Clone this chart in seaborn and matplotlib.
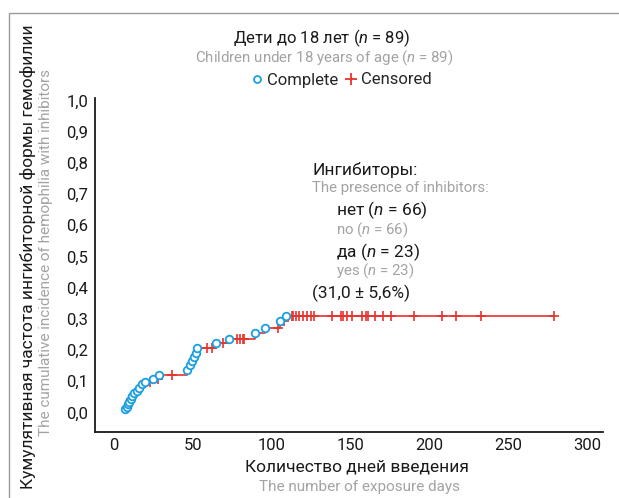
import numpy as np
import matplotlib
matplotlib.use("Agg")
import matplotlib.pyplot as plt
from matplotlib.lines import Line2D
from matplotlib.patches import Rectangle
from matplotlib.ticker import FuncFormatter
import seaborn as sns

# events (complete): exposure day and cumulative incidence after the event
event_days = [7.0, 8.0, 8.7, 9.5, 10.6, 11.6, 12.9, 14.4, 15.8, 17.5, 19.6, 24.5, 28.5,
              46.4, 48.1, 49.6, 50.7, 51.9, 52.4, 64.6, 72.6, 89.3, 95.6, 105.1, 108.9]
event_inc = [0.011, 0.018, 0.026, 0.034, 0.043, 0.052, 0.062, 0.070, 0.079, 0.090, 0.099, 0.107, 0.119,
             0.137, 0.152, 0.165, 0.177, 0.190, 0.208, 0.224, 0.237, 0.254, 0.270, 0.294, 0.310]

# censored observations: exposure day
censor_days = [10.2, 11.0, 22.8, 28.0, 36.5, 58.7, 61.9, 68.8, 77.7, 79.8, 81.5, 82.5,
               104.1, 107.5, 112.5, 113.4, 115.1, 117.2, 119.5, 122.0, 124.6, 126.9, 138.3,
               143.8, 145.2, 147.4, 150.5, 157.2, 159.4, 161.0, 165.3, 170.6, 175.4, 190.2,
               207.5, 216.4, 232.4, 278.7]

x_ticks = [0, 50, 100, 150, 200, 250, 300]
y_ticks = [0.0, 0.1, 0.2, 0.3, 0.4, 0.5, 0.6, 0.7, 0.8, 0.9, 1.0]

RED = "#e8322b"
BLUE = "#1a9fe0"
GRAY = "#a3a3a3"
BLACK = "#1a1a1a"

sns.set_theme(style="white")
plt.rcParams["font.family"] = ["Roboto", "DejaVu Sans"]
plt.rcParams["mathtext.fontset"] = "custom"
plt.rcParams["mathtext.it"] = "Roboto:italic"
plt.rcParams["mathtext.rm"] = "Roboto"

# level of the curve at each censor time
ev_d = np.array(event_days)
ev_v = np.array(event_inc)
idx = np.searchsorted(ev_d, censor_days, side="right") - 1
censor_inc = np.where(idx >= 0, ev_v[np.clip(idx, 0, None)], 0.0)

# step curve through events and up to last censor
all_days = np.concatenate([ev_d, censor_days])
all_inc = np.concatenate([ev_v, censor_inc])
order = np.argsort(all_days, kind="stable")
step_days = all_days[order]
step_inc = np.maximum.accumulate(all_inc[order])

fig = plt.figure(figsize=(6.19, 4.98), dpi=100)
W, H = 619, 498
ax = fig.add_axes([95 / W, 1 - 432 / H, (603 - 95) / W, (432 - 98) / H])

sns.lineplot(x=step_days, y=step_inc, drawstyle="steps-post", color=RED, lw=1.2,
             estimator=None, sort=False, ax=ax)
sns.scatterplot(x=censor_days, y=censor_inc, marker="+", s=55, color=RED,
                linewidth=1.2, ax=ax, zorder=3)
sns.scatterplot(x=event_days, y=event_inc, marker="o", s=30, facecolor="white",
                edgecolor=BLUE, linewidth=1.3, ax=ax, zorder=4)

ax.set_xlim(-12.0, 309.7)
ax.set_ylim(-0.0625, 1.008)
ax.set_xticks(x_ticks)
ax.set_yticks(y_ticks)
ax.yaxis.set_major_formatter(FuncFormatter(lambda v, p: f"{v:.1f}".replace(".", ",")))
ax.tick_params(axis="both", length=0, labelsize=12, colors=BLACK)
ax.tick_params(axis="y", pad=5)
ax.tick_params(axis="x", pad=4)
ax.set_xlabel("")
ax.set_ylabel("")
for s in ["top", "right"]:
    ax.spines[s].set_visible(False)
for s in ["left", "bottom"]:
    ax.spines[s].set_color(BLACK)
    ax.spines[s].set_linewidth(1.3)

# outer frame
fig.patches.append(Rectangle((9 / W, -0.1), 1.2, 1 - 13 / H + 0.1, fill=False,
                             ec="#9a9a9a", lw=1, transform=fig.transFigure, clip_on=False))


def fx(px):
    return px / W


def fy(py):
    return 1 - py / H


fig.text(fx(322), fy(38), "Дети до 18 лет ($n$ = 89)", ha="center", va="center",
         fontsize=12, color=BLACK)
fig.text(fx(324), fy(58), "Children under 18 years of age ($n$ = 89)", ha="center",
         va="center", fontsize=10.8, color=GRAY)

handles = [
    Line2D([], [], marker="o", ls="", mfc="white", mec=BLUE, mew=1.3, ms=5),
    Line2D([], [], marker="+", ls="", color=RED, mew=1.3, ms=8),
]
fig.legend(handles, ["Complete", "Censored"], loc="center", bbox_to_anchor=(fx(342), fy(80)),
           ncol=2, frameon=False, fontsize=12, handlelength=0.6, handletextpad=0.3,
           columnspacing=0.5, borderpad=0)

fig.text(fx(28), fy(257), "Кумулятивная частота ингибиторной формы гемофилии",
         rotation=90, ha="center", va="center", fontsize=12.5, color=BLACK)
fig.text(fx(46), fy(253), "The cumulative incidence of hemophilia with inhibitors",
         rotation=90, ha="center", va="center", fontsize=11, color=GRAY)

fig.text(fx(357), fy(467), "Количество дней введения", ha="center", va="center",
         fontsize=12.5, color=BLACK)
fig.text(fx(359), fy(487), "The number of exposure days", ha="center", va="center",
         fontsize=11, color=GRAY)

fig.text(fx(312), fy(170), "Ингибиторы:", ha="left", va="center", fontsize=12.5, color=BLACK)
fig.text(fx(312), fy(188), "The presence of inhibitors:", ha="left", va="center",
         fontsize=10.8, color=GRAY)
fig.text(fx(336), fy(210), "нет ($n$ = 66)", ha="left", va="center", fontsize=12.5, color=BLACK)
fig.text(fx(336), fy(230), "no ($n$ = 66)", ha="left", va="center", fontsize=10.8, color=GRAY)
fig.text(fx(336), fy(252), "да ($n$ = 23)", ha="left", va="center", fontsize=12.5, color=BLACK)
fig.text(fx(336), fy(271), "yes ($n$ = 23)", ha="left", va="center", fontsize=10.8, color=GRAY)
fig.text(fx(312), fy(293), "(31,0 ± 5,6%)", ha="left", va="center", fontsize=12.5, color=BLACK)

fig.savefig("out.png", dpi=100)
